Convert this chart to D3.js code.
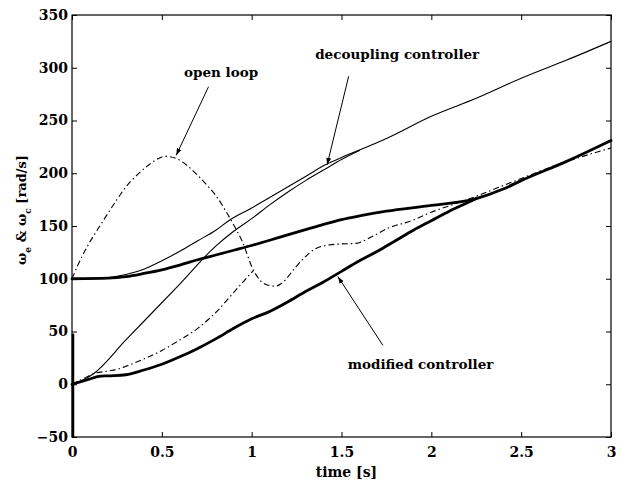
<!DOCTYPE html>
<html><head><meta charset="utf-8">
<script src="https://cdn.jsdelivr.net/npm/d3@7"></script>
<style>body{margin:0;background:#fff}svg{display:block}text{font-family:"DejaVu Serif",serif;font-weight:bold;fill:#000}</style>
</head><body><svg id="c" width="622" height="483"></svg>
<script>
// ---- data ----
const xTicks = [0, 0.5, 1, 1.5, 2, 2.5, 3];
const xTickLabels = ["0", "0.5", "1", "1.5", "2", "2.5", "3"];
const yTicks = [-50, 0, 50, 100, 150, 200, 250, 300, 350];
const yTickLabels = ["\u221250", "0", "50", "100", "150", "200", "250", "300", "350"];

// decoupling controller, engine speed (thin, starts at 100)
const decEngT = [0, 0.1, 0.2, 0.3, 0.4, 0.5, 0.6, 0.7, 0.8, 0.88, 1.0, 1.1, 1.2, 1.3, 1.41, 1.5, 1.6, 1.75, 2.0, 2.25, 2.5, 2.75, 3.0];
const decEngV = [100, 100, 101, 104, 109, 117, 126, 136, 146, 156, 167, 177, 187, 197, 208, 215, 222, 233, 254, 271, 290, 307, 325];
// decoupling controller, clutch speed (thin, starts at 0)
const decCluT = [0, 0.06, 0.12, 0.3, 0.6, 0.8, 0.9, 1.0, 1.1, 1.2, 1.3, 1.41, 1.5, 1.6];
const decCluV = [0, 4, 10, 42, 95, 131, 145, 157, 170, 182, 193, 204, 213, 221.5];

// open loop, engine speed (dash-dot, starts at 100)
const olEngT = [0, 0.03, 0.1, 0.14, 0.2, 0.25, 0.3, 0.36, 0.42, 0.47, 0.52, 0.58, 0.65, 0.7, 0.76, 0.8, 0.86, 0.9, 0.946, 1.01, 1.05, 1.1, 1.13, 1.17, 1.24, 1.3, 1.35, 1.43, 1.5, 1.58, 1.67, 1.76, 1.89, 2.0, 2.2, 2.47, 2.7, 3.0];
const olEngV = [100, 112, 135, 146, 162, 175, 187, 198, 207, 213, 216, 214, 206, 198, 187, 179, 163, 151, 136, 108, 98, 93.5, 93, 96, 110, 121, 128, 132, 133, 133.5, 140, 148, 155, 163, 175, 193, 208, 224];
// open loop, clutch speed (dash-dot, starts at 0)
const olCluT = [0, 0.06, 0.12, 0.2, 0.25, 0.3, 0.4, 0.5, 0.6, 0.7, 0.8, 0.9, 1.01];
const olCluV = [0, 5, 10, 12.5, 14, 17, 24, 32, 42, 53, 68, 87, 108];

// modified controller, engine speed (thick, starts at 100)
const modEngT = [0, 0.2, 0.3, 0.4, 0.5, 0.6, 0.7, 0.8, 0.9, 1.0, 1.1, 1.2, 1.3, 1.4, 1.5, 1.6, 1.75, 2.0, 2.25, 2.4, 2.5, 2.75, 3.0];
const modEngV = [100, 100.5, 102, 105, 108.5, 113, 118, 122.5, 127, 131.5, 136.5, 141.5, 146.5, 151.5, 156, 159.5, 164, 169.5, 176, 185, 193, 211, 231];
// modified controller, clutch speed (thick, starts at 0)
const modCluT = [0, 0.1, 0.15, 0.2, 0.3, 0.4, 0.5, 0.6, 0.7, 0.8, 0.9, 1.0, 1.1, 1.2, 1.3, 1.4, 1.5, 1.6, 1.7, 1.8, 1.9, 2.0, 2.1, 2.2, 2.25];
const modCluV = [0, 5, 7.5, 8, 9, 13.5, 19, 26, 34, 43, 53, 62, 69, 78, 88, 97, 107, 117, 126, 136, 146, 155, 164, 172, 176];
// initial transient at t = 0
const spikeT = [0, 0];
const spikeV = [-50, 48];

// ---- layout ----
const svg = d3.select("#c");
const L = 72, T = 15, R = 611, B = 437;
const x = d3.scaleLinear().domain([0, 3]).range([L, R]);
const y = d3.scaleLinear().domain([-50, 350]).range([B, T]);

// frame
svg.append("rect").attr("x", L).attr("y", T).attr("width", R - L).attr("height", B - T)
  .attr("fill", "none").attr("stroke", "#000").attr("stroke-width", 1.2);

// axes with inward ticks
const fmtX = (d, i) => xTickLabels[i];
const fmtY = (d, i) => yTickLabels[i];
const gx = svg.append("g").attr("transform", `translate(0,${B})`)
  .call(d3.axisBottom(x).tickValues(xTicks).tickFormat(fmtX).tickSizeInner(-5).tickSizeOuter(0).tickPadding(10));
const gxt = svg.append("g").attr("transform", `translate(0,${T})`)
  .call(d3.axisTop(x).tickValues(xTicks).tickFormat("").tickSizeInner(-5).tickSizeOuter(0));
const gy = svg.append("g").attr("transform", `translate(${L},0)`)
  .call(d3.axisLeft(y).tickValues(yTicks).tickFormat(fmtY).tickSizeInner(-5).tickSizeOuter(0).tickPadding(4));
const gyr = svg.append("g").attr("transform", `translate(${R},0)`)
  .call(d3.axisRight(y).tickValues(yTicks).tickFormat("").tickSizeInner(-5).tickSizeOuter(0));
[gx, gxt, gy, gyr].forEach(g => {
  g.select(".domain").remove();
  g.selectAll("line").attr("stroke", "#000").attr("stroke-width", 1);
  g.selectAll("text").style("font-family", '"DejaVu Serif",serif').style("font-weight", "bold").style("font-size", "14px").attr("fill", "#000");
});

// lines
const line = d3.line().x(d => x(d[0])).y(d => y(d[1])).curve(d3.curveMonotoneX);
const zip = (a, b) => a.map((v, i) => [v, b[i]]);
const plot = (tt, vv, w, dash) => {
  const p = svg.append("path").datum(zip(tt, vv)).attr("d", line)
    .attr("fill", "none").attr("stroke", "#000").attr("stroke-width", w)
    .attr("stroke-linejoin", "round").attr("stroke-linecap", "round");
  if (dash) p.attr("stroke-dasharray", dash).attr("stroke-linecap", "butt");
};
plot(decEngT, decEngV, 1.1);
plot(decCluT, decCluV, 1.1);
plot(olEngT, olEngV, 1.1, "6,3,1.5,3");
plot(olCluT, olCluV, 1.1, "6,3,1.5,3");
plot(modEngT, modEngV, 2.8);
plot(modCluT, modCluV, 2.8);
svg.append("path").datum(zip(spikeT, spikeV)).attr("d", d3.line().x(d => x(d[0]) + 1).y(d => y(d[1])))
  .attr("stroke", "#000").attr("stroke-width", 2.5).attr("fill", "none");

// arrow marker
svg.append("defs").append("marker").attr("id", "ah").attr("viewBox", "0 0 10 10")
  .attr("refX", 10).attr("refY", 5).attr("markerWidth", 7).attr("markerHeight", 7)
  .attr("markerUnits", "userSpaceOnUse").attr("orient", "auto")
  .append("path").attr("d", "M0,1.5 L10,5 L0,8.5 Z").attr("fill", "#000");

// annotations (positions in data units)
const notes = [
  { text: "decoupling controller", tx: 1.81, ty: 308, ax0: 1.54, ay0: 292, ax1: 1.42, ay1: 208 },
  { text: "open loop", tx: 0.83, ty: 291, ax0: 0.76, ay0: 282, ax1: 0.58, ay1: 217 },
  { text: "modified controller", tx: 1.94, ty: 14, ax0: 1.73, ay0: 37, ax1: 1.48, ay1: 102 }
];
notes.forEach(n => {
  svg.append("text").attr("x", x(n.tx)).attr("y", y(n.ty)).attr("text-anchor", "middle")
    .style("font-size", "13.5px").text(n.text);
  svg.append("line").attr("x1", x(n.ax0)).attr("y1", y(n.ay0)).attr("x2", x(n.ax1)).attr("y2", y(n.ay1))
    .attr("stroke", "#000").attr("stroke-width", 1).attr("marker-end", "url(#ah)");
});

// axis titles
svg.append("text").attr("x", (L + R) / 2 + 5).attr("y", 477).attr("text-anchor", "middle")
  .style("font-size", "14px").text("time [s]");
const yl = svg.append("text").attr("transform", "translate(26,210) rotate(-90)").attr("text-anchor", "middle")
  .style("font-size", "13px");
yl.append("tspan").text("\u03C9");
yl.append("tspan").attr("dy", 5).style("font-size", "9px").text("e");
yl.append("tspan").attr("dy", -5).text(" & \u03C9");
yl.append("tspan").attr("dy", 5).style("font-size", "9px").text("c");
yl.append("tspan").attr("dy", -5).text(" [rad/s]");
</script></body></html>
